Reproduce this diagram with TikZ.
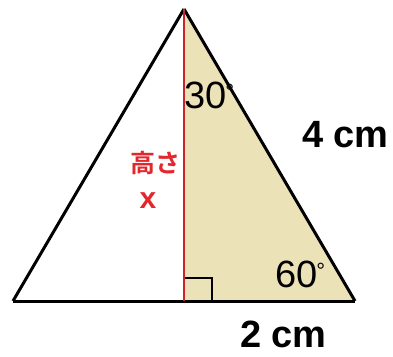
\documentclass[tikz,border=0pt]{standalone}
\usepackage{fontspec}
\setmainfont{Liberation Sans}
\newfontfamily\jpfont[BoldFont={Noto Sans CJK JP Bold}]{Noto Sans CJK JP}
\definecolor{beige}{RGB}{236,226,183}
\definecolor{hred}{RGB}{205,35,45}
\definecolor{tred}{RGB}{226,40,45}
\begin{document}
\begin{tikzpicture}[x=1pt,y=-1pt,
  edge/.style={line width=3pt,line join=miter,line cap=butt},
  lbl/.style={inner sep=0pt,anchor=base west,font=\fontsize{38}{38}\selectfont},
  lblb/.style={lbl,font=\fontsize{38}{38}\selectfont\bfseries}]
\useasboundingbox (0,0) rectangle (393,356);
\coordinate (A) at (184,9);
\coordinate (B) at (13,301);
\coordinate (C) at (355,301);
\coordinate (H) at (184,301);
\fill[beige] (A) -- (H) -- (C) -- cycle;
\draw[line width=1.3pt] (184,278) -- (212,278) -- (212,301);
\draw[edge] (B) -- (C);
\draw[edge] (A) -- (B);
\draw[edge] (A) -- (C);
\draw[hred,line width=2.8pt] (A) -- (H);
\node[lbl] (t30) at (184,108) {30\kern-1pt\raisebox{9pt}{\fontsize{22}{22}\selectfont °}};
\node[lbl] (t60) at (275,287) {60\kern-1pt\raisebox{9pt}{\fontsize{22}{22}\selectfont °}};
\node[lblb] (t4) at (302,147) {4 cm};
\node[lblb] (t2) at (240,347) {2 cm};
\node[inner sep=0pt,text=tred,font=\jpfont\bfseries\fontsize{25}{25}\selectfont] (h) at (155,163) {高さ};
\node[inner sep=0pt,text=tred,font=\fontsize{30}{30}\selectfont\bfseries] (x) at (148,201) {x};
\end{tikzpicture}
\end{document}
